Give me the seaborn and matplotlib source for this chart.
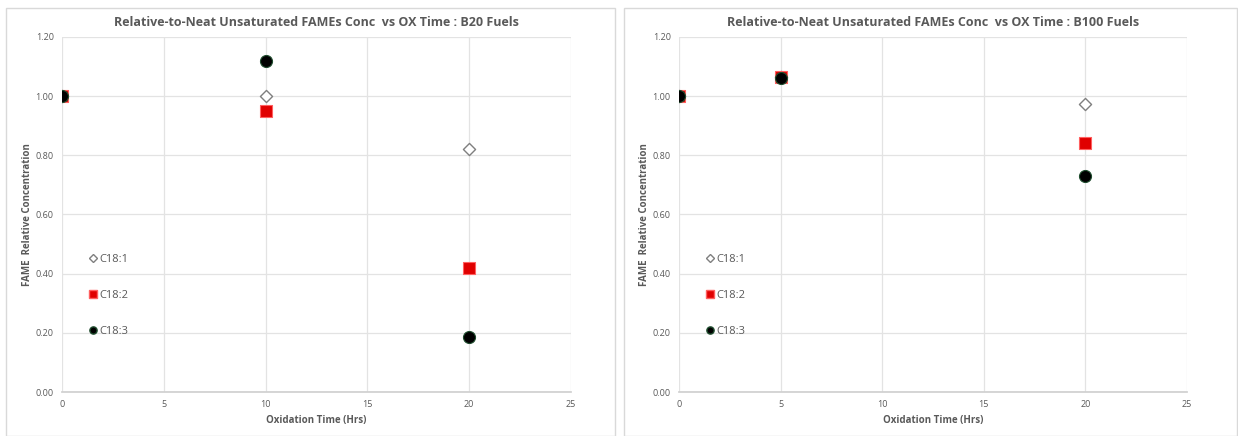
import matplotlib
matplotlib.use("Agg")
import matplotlib.pyplot as plt
from matplotlib.patches import Rectangle
from matplotlib.lines import Line2D
import seaborn as sns
import pandas as pd

sns.set_theme(style="white")
plt.rcParams["font.family"] = ["Open Sans", "DejaVu Sans"]

series = ["C18:1", "C18:2", "C18:3"]

# B20 fuels
b20_time = [0, 10, 20]
b20_c181 = [1.00, 1.00, 0.82]
b20_c182 = [1.00, 0.95, 0.42]
b20_c183 = [1.00, 1.12, 0.185]

# B100 fuels
b100_time = [0, 5, 20]
b100_c181 = [1.00, 1.065, 0.975]
b100_c182 = [1.00, 1.065, 0.84]
b100_c183 = [1.00, 1.06, 0.73]

x_ticks = [0, 5, 10, 15, 20, 25]
y_ticks = [0.00, 0.20, 0.40, 0.60, 0.80, 1.00, 1.20]

styles = {
    "C18:1": dict(marker="D", s=38, facecolor="white", edgecolor="#7f7f7f", linewidth=1.0),
    "C18:2": dict(marker="s", s=85, facecolor="#e00000", edgecolor="#ff6060", linewidth=0.8),
    "C18:3": dict(marker="o", s=75, facecolor="black", edgecolor="#1f4d2e", linewidth=0.8),
}
legend_styles = {
    "C18:1": dict(marker="D", markersize=4.2, markerfacecolor="white", markeredgecolor="#7f7f7f"),
    "C18:2": dict(marker="s", markersize=6.0, markerfacecolor="#e00000", markeredgecolor="#ff6060"),
    "C18:3": dict(marker="o", markersize=5.2, markerfacecolor="black", markeredgecolor="#1f4d2e"),
}

TXT = "#595959"

fig = plt.figure(figsize=(12.38, 4.36), dpi=100)
fig.patch.set_facecolor("white")

# Panel frames
for x0, w in [(6 / 1238, 609 / 1238), (624 / 1238, 613 / 1238)]:
    fig.patches.append(Rectangle((x0, 0.0), w, 1 - 8 / 436, transform=fig.transFigure,
                                 fill=False, edgecolor="#d9d9d9", linewidth=1.0))


def draw(ax, time, c181, c182, c183, title):
    df = pd.DataFrame({
        "time": time * 3,
        "conc": c181 + c182 + c183,
        "fame": [s for s in series for _ in time],
    })
    for name in series:
        sub = df[df["fame"] == name]
        sns.scatterplot(data=sub, x="time", y="conc", ax=ax, zorder=3, legend=False,
                        **styles[name])
    ax.set_xlim(0, 25)
    ax.set_ylim(0, 1.2)
    ax.set_xticks(x_ticks)
    ax.set_yticks(y_ticks)
    ax.set_yticklabels([f"{v:.2f}" for v in y_ticks])
    ax.tick_params(axis="both", labelsize=6.5, colors=TXT, length=0, pad=6)
    ax.grid(True, color="#e3e3e3", linewidth=0.9)
    ax.set_axisbelow(True)
    for side in ["top", "right", "left", "bottom"]:
        ax.spines[side].set_visible(False)
    ax.spines["bottom"].set_visible(True)
    ax.spines["bottom"].set_color("#d0d0d0")
    ax.set_xlabel("Oxidation Time (Hrs)", fontsize=7, fontweight="bold", color=TXT, labelpad=4)
    ax.set_ylabel("FAME  Relative Concentration", fontsize=7, fontweight="bold", color=TXT, labelpad=2)
    ax.set_title(title, fontsize=9, fontweight="bold", color=TXT, pad=8)
    handles = [Line2D([], [], linestyle="none", label=n, **legend_styles[n]) for n in series]
    leg = ax.legend(handles=handles, loc="center left", bbox_to_anchor=(0.03, 0.271),
                    frameon=False, fontsize=8, labelspacing=2.25, handletextpad=0.1,
                    handlelength=1.0)
    for t in leg.get_texts():
        t.set_color(TXT)


ax1 = fig.add_axes([62 / 1238, 1 - 392 / 436, 509 / 1238, 355 / 436])
ax2 = fig.add_axes([679 / 1238, 1 - 392 / 436, 508 / 1238, 355 / 436])

draw(ax1, b20_time, b20_c181, b20_c182, b20_c183,
     "Relative-to-Neat Unsaturated FAMEs Conc  vs OX Time : B20 Fuels")
draw(ax2, b100_time, b100_c181, b100_c182, b100_c183,
     "Relative-to-Neat Unsaturated FAMEs Conc  vs OX Time : B100 Fuels")

fig.savefig("out.png", dpi=100, facecolor="white")
